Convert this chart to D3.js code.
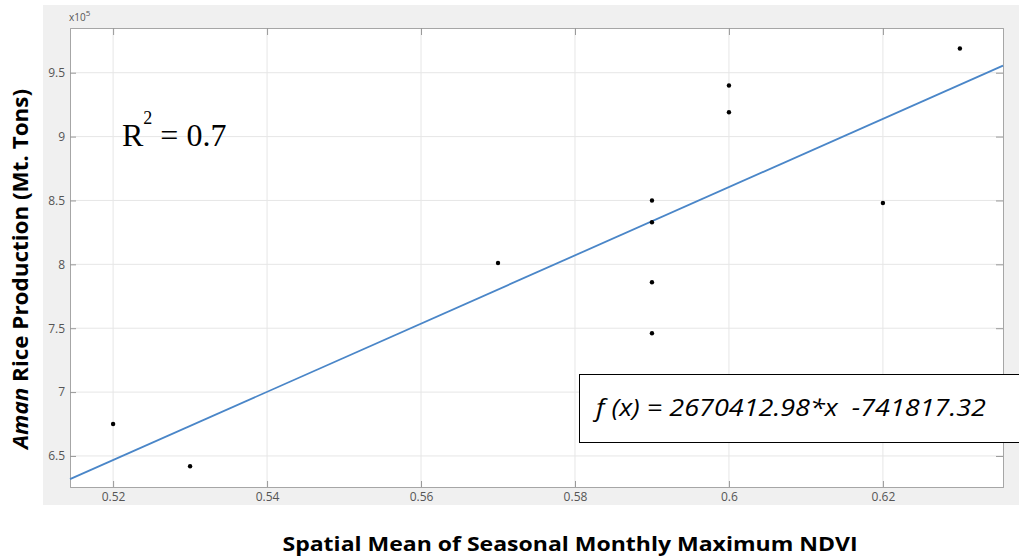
<!DOCTYPE html>
<html>
<head>
<meta charset="utf-8">
<script src="https://cdn.jsdelivr.net/npm/d3@7"></script>
<style>
  body { margin: 0; background: #fff; }
  svg { display: block; }
</style>
</head>
<body>
<div id="chart"></div>
<script>
// data (production in units of 10^5 Mt)
var ndvi = [0.52, 0.53, 0.57, 0.59, 0.59, 0.59, 0.59, 0.60, 0.60, 0.62, 0.63];
var production = [6.75, 6.42, 8.01, 8.50, 8.33, 7.86, 7.46, 9.40, 9.19, 8.48, 9.69];
var xTicks = [0.52, 0.54, 0.56, 0.58, 0.60, 0.62];
var yTicks = [6.5, 7, 7.5, 8, 8.5, 9, 9.5];
var slope = 2670412.98, intercept = -741817.32;

var w = 1019, h = 558;
var padL = 70, padR = 1003, padT = 28, padB = 487;

var svg = d3.select("#chart").append("svg").attr("width", w).attr("height", h);

// gray figure background
svg.append("rect").attr("x", 43).attr("y", 5).attr("width", w - 43).attr("height", 500).attr("fill", "#f0f0f0");

var x = d3.scaleLinear().domain([0.5144, 0.6356]).range([padL, padR]);
var y = d3.scaleLinear().domain([6.257, 9.85]).range([padB, padT]);

svg.append("rect").attr("x", padL).attr("y", padT).attr("width", padR - padL).attr("height", padB - padT).attr("fill", "#fff");

// grid
svg.append("g").selectAll("line").data(xTicks).enter().append("line")
  .attr("x1", function(d) { return x(d); }).attr("x2", function(d) { return x(d); })
  .attr("y1", padT).attr("y2", padB)
  .attr("stroke", "#e6e6e6").attr("stroke-width", 1);
svg.append("g").selectAll("line").data(yTicks).enter().append("line")
  .attr("y1", function(d) { return y(d); }).attr("y2", function(d) { return y(d); })
  .attr("x1", padL).attr("x2", padR)
  .attr("stroke", "#e6e6e6").attr("stroke-width", 1);

// axes (ticks inside, MATLAB style)
var trim = function(d) { return String(+d.toFixed(2)); };
var xAxis = d3.axisBottom(x).tickValues(xTicks).tickSize(-6).tickPadding(5).tickFormat(trim);
var yAxis = d3.axisLeft(y).tickValues(yTicks).tickSize(-6).tickPadding(5).tickFormat(trim);

var gx = svg.append("g").attr("transform", "translate(0," + padB + ")").call(xAxis);
var gy = svg.append("g").attr("transform", "translate(" + padL + ",0)").call(yAxis);
var gx2 = svg.append("g").attr("transform", "translate(0," + padT + ")")
  .call(d3.axisTop(x).tickValues(xTicks).tickSize(-7).tickFormat(""));
var gy2 = svg.append("g").attr("transform", "translate(" + padR + ",0)")
  .call(d3.axisRight(y).tickValues(yTicks).tickSize(-7).tickFormat(""));

[gx, gy, gx2, gy2].forEach(function(g) {
  g.select(".domain").attr("stroke", "#a6a6a6");
  g.selectAll(".tick line").attr("stroke", "#999");
  g.selectAll("text").attr("fill", "#555").attr("font-family", "Open Sans, sans-serif").attr("font-size", "12px");
});

// exponent label
var ex = svg.append("text").attr("x", padL - 1).attr("y", 21)
  .attr("font-family", "Open Sans, sans-serif").attr("font-size", "10px").attr("fill", "#555");
ex.append("tspan").text("x10");
ex.append("tspan").attr("dy", -5).attr("font-size", "8px").text("5");

// fit line
var xd = x.domain();
svg.append("line")
  .attr("x1", x(xd[0])).attr("y1", y((slope * xd[0] + intercept) / 1e5))
  .attr("x2", x(xd[1])).attr("y2", y((slope * xd[1] + intercept) / 1e5))
  .attr("stroke", "#4a86c8").attr("stroke-width", 1.8);

// points
svg.append("g").selectAll("circle").data(ndvi).enter().append("circle")
  .attr("cx", function(d) { return x(d); })
  .attr("cy", function(d, i) { return y(production[i]); })
  .attr("r", 2.2).attr("fill", "#000");

// R^2 annotation
var r2 = svg.append("text").attr("x", 122).attr("y", 146)
  .attr("font-family", "Liberation Serif, Times New Roman, serif").attr("font-size", "32px").attr("fill", "#000");
r2.append("tspan").text("R");
r2.append("tspan").attr("dy", -22).attr("font-size", "18px").text("2");
r2.append("tspan").attr("dy", 22).text(" = 0.7");

// equation box
svg.append("rect").attr("x", 579.5).attr("y", 374.5).attr("width", 460).attr("height", 68)
  .attr("fill", "#fff").attr("stroke", "#000").attr("stroke-width", 1);
svg.append("text").attr("x", 596).attr("y", 416)
  .attr("font-family", "Open Sans, sans-serif").attr("font-style", "italic").attr("font-size", "24px").attr("fill", "#000")
  .attr("textLength", 390).attr("lengthAdjust", "spacingAndGlyphs")
  .style("white-space", "pre")
  .text("f (x) = 2670412.98*x  -741817.32");

// axis titles
svg.append("text").attr("x", 570).attr("y", 551).attr("text-anchor", "middle")
  .attr("font-family", "Open Sans, sans-serif").attr("font-weight", "bold").attr("font-size", "20px").attr("fill", "#000")
  .attr("textLength", 575).attr("lengthAdjust", "spacingAndGlyphs")
  .text("Spatial Mean of Seasonal Monthly Maximum NDVI");

var yl = svg.append("text").attr("transform", "translate(28,269) rotate(-90)").attr("text-anchor", "middle")
  .attr("font-family", "Open Sans, sans-serif").attr("font-weight", "bold").attr("font-size", "21px").attr("fill", "#000")
  .attr("textLength", 360).attr("lengthAdjust", "spacingAndGlyphs");
yl.append("tspan").attr("font-style", "italic").text("Aman");
yl.append("tspan").text(" Rice Production (Mt. Tons)");
</script>
</body>
</html>
